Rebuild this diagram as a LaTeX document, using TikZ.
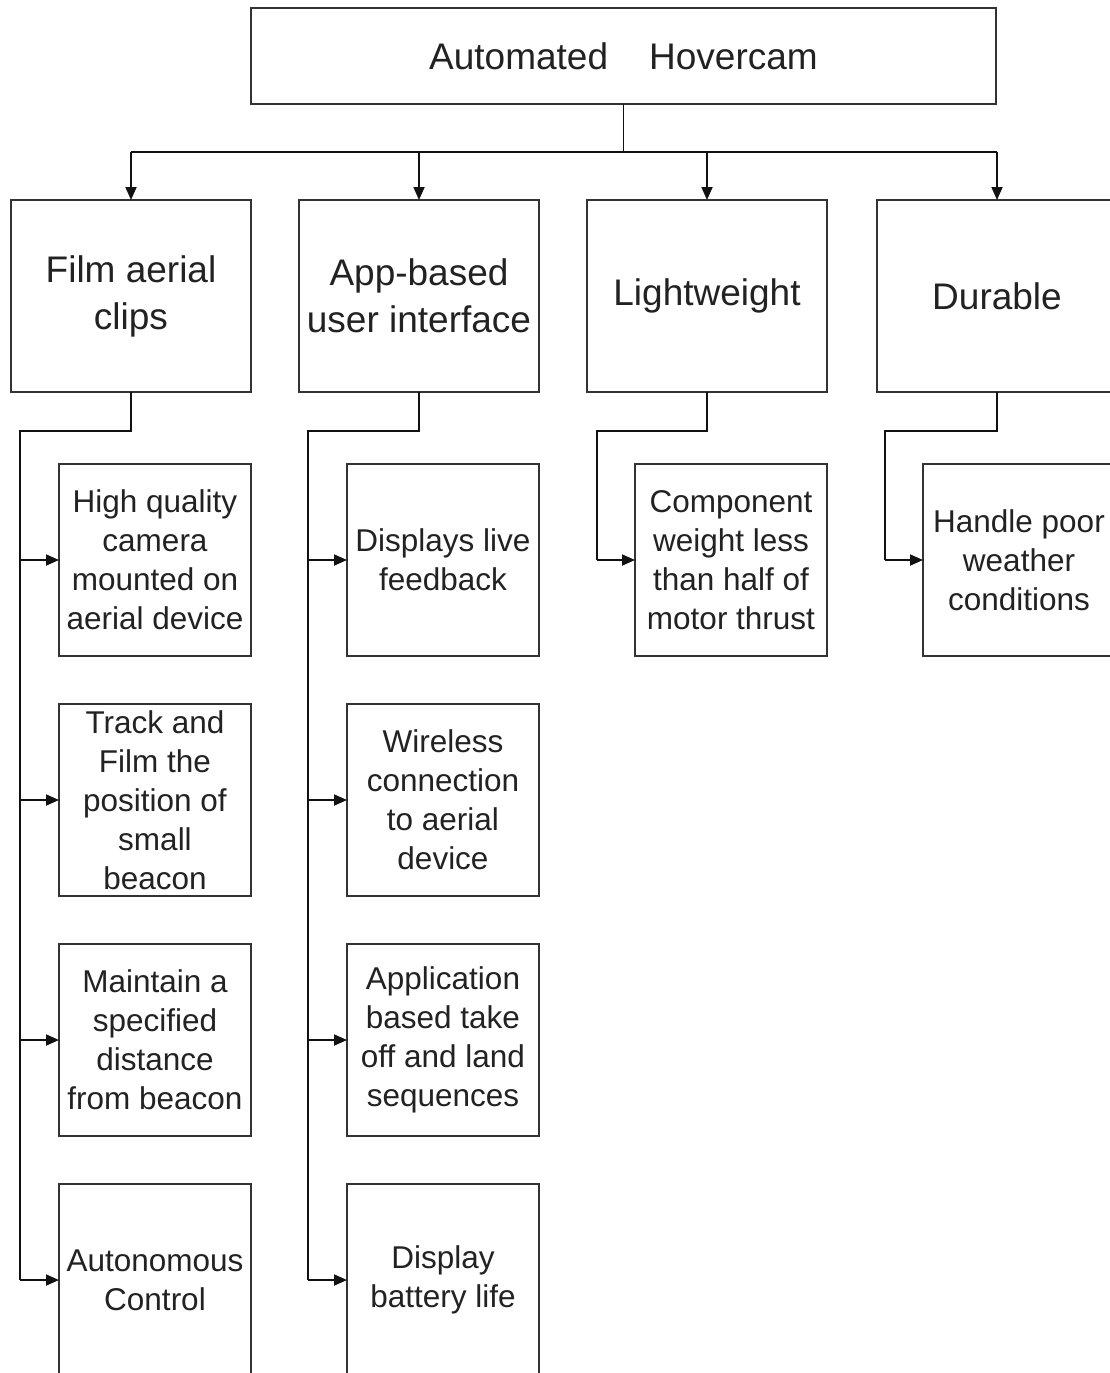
\documentclass[tikz,border=0pt]{standalone}
\usepackage{fontspec}
\setmainfont{Liberation Sans}
\usetikzlibrary{arrows.meta}
\definecolor{boxc}{HTML}{333333}
\definecolor{linec}{HTML}{111111}
\definecolor{txtc}{HTML}{222222}
\begin{document}
\begin{tikzpicture}[x=1pt,y=-1pt,
  basebox/.style={draw=boxc, line width=1.8pt, inner sep=0pt, outer sep=0pt, align=center, text=txtc, anchor=north west, fill=white},
  topbox/.style={basebox, minimum width=745pt, minimum height=96pt, font=\fontsize{37}{44}\selectfont},
  catbox/.style={basebox, minimum width=240pt, minimum height=192pt, font=\fontsize{37}{47}\selectfont},
  itembox/.style={basebox, minimum width=192pt, minimum height=192pt, font=\fontsize{31.5}{39}\selectfont},
  conn/.style={draw=linec, line width=1.8pt},
  trunk/.style={draw=linec, line width=2.6pt},
  arr/.style={draw=linec, line width=1.8pt, -{Triangle[length=13pt,width=11pt]}},
]
\useasboundingbox (0,0) rectangle (1110,1373);
\clip (0,0) rectangle (1110,1373);
\fill[white] (0,0) rectangle (1110,1373);

% top
\node[topbox] (top) at (251,8) {Automated\ \ \ \ Hovercam};

% categories
\node[catbox] (film) at (11,200) {Film aerial\\clips};
\node[catbox] (app) at (299,200) {App-based\\user interface};
\node[catbox] (light) at (587,200) {Lightweight};
\node[catbox] (dur) at (877,200) {Durable};

% film items
\node[itembox] (f1) at (59,464) {High quality\\camera\\mounted on\\aerial device};
\node[itembox] (f2) at (59,704) {Track and\\Film the\\position of\\small\\beacon};
\node[itembox] (f3) at (59,944) {Maintain a\\specified\\distance\\from beacon};
\node[itembox] (f4) at (59,1184) {Autonomous\\Control};

% app items
\node[itembox] (a1) at (347,464) {Displays live\\feedback};
\node[itembox] (a2) at (347,704) {Wireless\\connection\\to aerial\\device};
\node[itembox] (a3) at (347,944) {Application\\based take\\off and land\\sequences};
\node[itembox] (a4) at (347,1184) {Display\\battery life};

% light / durable items
\node[itembox] (l1) at (635,464) {Component\\weight less\\than half of\\motor thrust};
\node[itembox] (d1) at (923,464) {Handle poor\\weather\\conditions};

% bus
\coordinate (bus) at (623.5,152);
\draw[conn] (top.south) -- (top.south |- bus);
\draw[conn] (film.north |- bus) -- (dur.north |- bus);
\draw[arr] (film.north |- bus) -- (film.north);
\draw[arr] (app.north |- bus) -- (app.north);
\draw[arr] (light.north |- bus) -- (light.north);
\draw[arr] (dur.north |- bus) -- (dur.north);

% film trunk
\coordinate (fj) at (20,431);
\draw[trunk] (film.south) |- (fj) -- (fj |- f4.west);
\foreach \n in {f1,f2,f3,f4} \draw[arr] (fj |- \n.west) -- (\n.west);

% app trunk
\coordinate (aj) at (308,431);
\draw[trunk] (app.south) |- (aj) -- (aj |- a4.west);
\foreach \n in {a1,a2,a3,a4} \draw[arr] (aj |- \n.west) -- (\n.west);

% light trunk
\coordinate (lj) at (597,431);
\draw[conn] (light.south) |- (lj) -- (lj |- l1.west);
\draw[arr] (lj |- l1.west) -- (l1.west);

% durable trunk
\coordinate (dj) at (885,431);
\draw[conn] (dur.south) |- (dj) -- (dj |- d1.west);
\draw[arr] (dj |- d1.west) -- (d1.west);
\end{tikzpicture}
\end{document}
